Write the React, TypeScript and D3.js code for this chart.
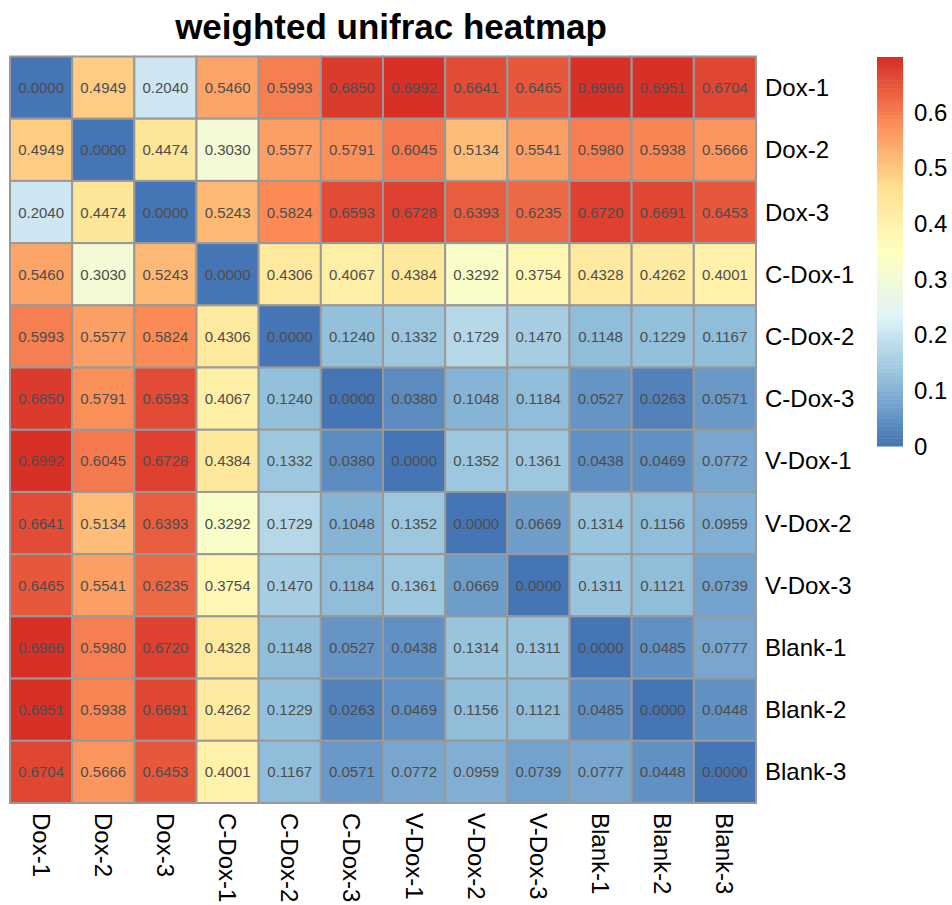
import React, { useEffect, useRef } from "react";
import * as d3 from "d3";

const samples = [
  "Dox-1", "Dox-2", "Dox-3", "C-Dox-1", "C-Dox-2", "C-Dox-3",
  "V-Dox-1", "V-Dox-2", "V-Dox-3", "Blank-1", "Blank-2", "Blank-3",
];

// one row of the distance matrix per sample
const dox1 = [0.0, 0.4949, 0.204, 0.546, 0.5993, 0.685, 0.6992, 0.6641, 0.6465, 0.6966, 0.6951, 0.6704];
const dox2 = [0.4949, 0.0, 0.4474, 0.303, 0.5577, 0.5791, 0.6045, 0.5134, 0.5541, 0.598, 0.5938, 0.5666];
const dox3 = [0.204, 0.4474, 0.0, 0.5243, 0.5824, 0.6593, 0.6728, 0.6393, 0.6235, 0.672, 0.6691, 0.6453];
const cdox1 = [0.546, 0.303, 0.5243, 0.0, 0.4306, 0.4067, 0.4384, 0.3292, 0.3754, 0.4328, 0.4262, 0.4001];
const cdox2 = [0.5993, 0.5577, 0.5824, 0.4306, 0.0, 0.124, 0.1332, 0.1729, 0.147, 0.1148, 0.1229, 0.1167];
const cdox3 = [0.685, 0.5791, 0.6593, 0.4067, 0.124, 0.0, 0.038, 0.1048, 0.1184, 0.0527, 0.0263, 0.0571];
const vdox1 = [0.6992, 0.6045, 0.6728, 0.4384, 0.1332, 0.038, 0.0, 0.1352, 0.1361, 0.0438, 0.0469, 0.0772];
const vdox2 = [0.6641, 0.5134, 0.6393, 0.3292, 0.1729, 0.1048, 0.1352, 0.0, 0.0669, 0.1314, 0.1156, 0.0959];
const vdox3 = [0.6465, 0.5541, 0.6235, 0.3754, 0.147, 0.1184, 0.1361, 0.0669, 0.0, 0.1311, 0.1121, 0.0739];
const blank1 = [0.6966, 0.598, 0.672, 0.4328, 0.1148, 0.0527, 0.0438, 0.1314, 0.1311, 0.0, 0.0485, 0.0777];
const blank2 = [0.6951, 0.5938, 0.6691, 0.4262, 0.1229, 0.0263, 0.0469, 0.1156, 0.1121, 0.0485, 0.0, 0.0448];
const blank3 = [0.6704, 0.5666, 0.6453, 0.4001, 0.1167, 0.0571, 0.0772, 0.0959, 0.0739, 0.0777, 0.0448, 0.0];

const legendTicks = [0, 0.1, 0.2, 0.3, 0.4, 0.5, 0.6];

// rev(brewer.pal(7, "RdYlBu"))
const palette = ["#4575B4", "#91BFDB", "#E0F3F8", "#FFFFBF", "#FEE090", "#FC8D59", "#D73027"];

const FONT = "Liberation Sans, Arial, Helvetica, sans-serif";

export default function App() {
  const ref = useRef<SVGSVGElement>(null);

  useEffect(() => {
    const rows = [dox1, dox2, dox3, cdox1, cdox2, cdox3, vdox1, vdox2, vdox3, blank1, blank2, blank3];
    const cells = rows.flatMap((r, i) =>
      r.map((v, j) => ({ row: samples[i], col: samples[j], value: v }))
    );

    const vmin = d3.min(cells, (d) => d.value) as number;
    const vmax = d3.max(cells, (d) => d.value) as number;

    // 100 colours like colorRampPalette(...)(100)
    const ramp = d3
      .scaleLinear<string>()
      .domain(palette.map((_, i) => i / (palette.length - 1)))
      .range(palette)
      .interpolate(d3.interpolateRgb);
    const nColors = 100;
    const colors = d3.range(nColors).map((i) => ramp(i / (nColors - 1)));
    const colorOf = (v: number) => {
      let k = Math.floor(((v - vmin) / (vmax - vmin)) * nColors);
      if (k >= nColors) k = nColors - 1;
      if (k < 0) k = 0;
      return colors[k];
    };

    const svg = d3.select(ref.current);

    const x = d3.scaleBand().domain(samples).range([10, 756]);
    const y = d3.scaleBand().domain(samples).range([56.5, 803]);

    svg
      .selectAll(".title")
      .data([0])
      .join("text")
      .attr("class", "title")
      .attr("x", 391)
      .attr("y", 39)
      .attr("text-anchor", "middle")
      .style("font-family", FONT)
      .style("font-weight", "bold")
      .style("font-size", "35px")
      .text("weighted unifrac heatmap");

    const g = svg.selectAll(".cells").data([0]).join("g").attr("class", "cells");

    g.selectAll("rect")
      .data(cells)
      .join("rect")
      .attr("x", (d) => x(d.col) as number)
      .attr("y", (d) => y(d.row) as number)
      .attr("width", x.bandwidth())
      .attr("height", y.bandwidth())
      .attr("fill", (d) => colorOf(d.value))
      .attr("stroke", "#999999")
      .attr("stroke-width", 2);

    g.selectAll("text")
      .data(cells)
      .join("text")
      .attr("x", (d) => (x(d.col) as number) + x.bandwidth() / 2)
      .attr("y", (d) => (y(d.row) as number) + y.bandwidth() / 2)
      .attr("text-anchor", "middle")
      .attr("dominant-baseline", "central")
      .style("font-family", FONT)
      .style("font-size", "15px")
      .style("fill", "#4d4d4d")
      .text((d) => d.value.toFixed(4));

    // row labels
    svg
      .selectAll(".rowlab")
      .data(samples)
      .join("text")
      .attr("class", "rowlab")
      .attr("x", 765)
      .attr("y", (d) => (y(d) as number) + y.bandwidth() / 2)
      .attr("dominant-baseline", "central")
      .style("font-family", FONT)
      .style("font-size", "24px")
      .text((d) => d);

    // column labels, rotated
    svg
      .selectAll(".collab")
      .data(samples)
      .join("text")
      .attr("class", "collab")
      .attr(
        "transform",
        (d) => `translate(${(x(d) as number) + x.bandwidth() / 2}, 813) rotate(90)`
      )
      .attr("dominant-baseline", "central")
      .style("font-family", FONT)
      .style("font-size", "24px")
      .text((d) => d);

    // legend
    const ly = d3.scaleLinear().domain([vmin, vmax]).range([446, 57]);
    const steps = d3.range(nColors);
    const stepH = (446 - 57) / nColors;
    const lg = svg.selectAll(".legend").data([0]).join("g").attr("class", "legend");
    lg.selectAll("rect")
      .data(steps)
      .join("rect")
      .attr("x", 877)
      .attr("y", (i) => 446 - (i + 1) * stepH)
      .attr("width", 26)
      .attr("height", stepH + 0.5)
      .attr("fill", (i) => colors[i]);

    lg.selectAll("text")
      .data(legendTicks)
      .join("text")
      .attr("x", 914)
      .attr("y", (d) => ly(d))
      .attr("dominant-baseline", "central")
      .style("font-family", FONT)
      .style("font-size", "24px")
      .text((d) => String(d));
  }, []);

  return (
    <svg
      ref={ref}
      width={952}
      height={905}
      style={{ position: "absolute", left: 0, top: 0, background: "#fff" }}
    />
  );
}
